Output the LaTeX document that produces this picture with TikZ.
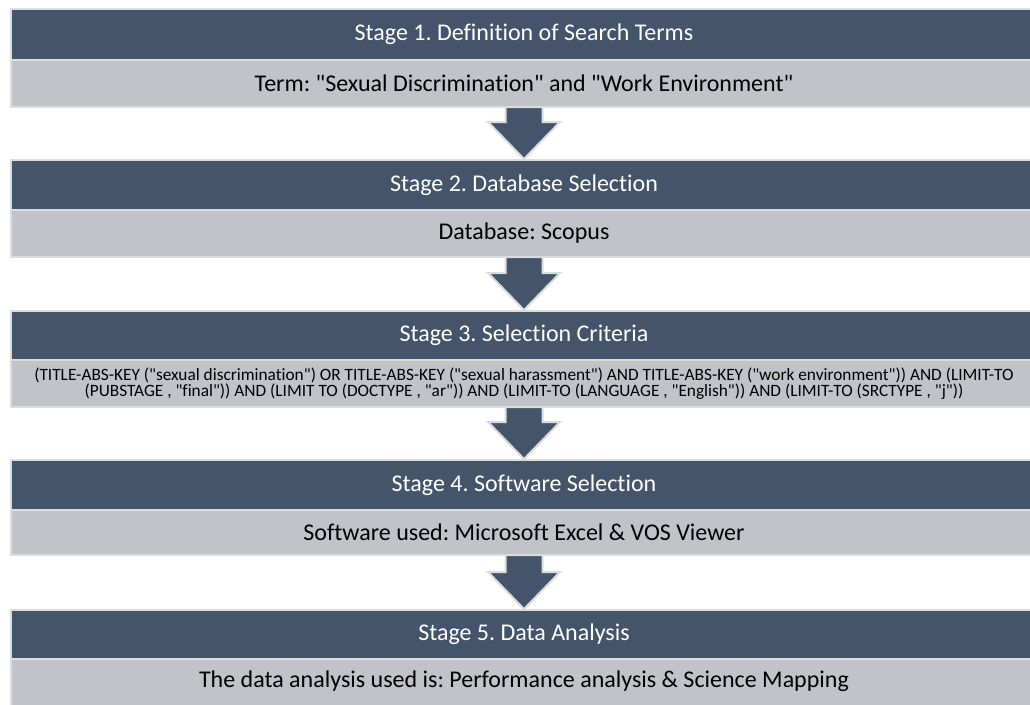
\documentclass[tikz,border=0pt]{standalone}
\usepackage{fontspec}
\setmainfont{Carlito}[Ligatures={TeXOff,CommonOff}]
\definecolor{darkbar}{HTML}{44546A}
\definecolor{lightbar}{HTML}{C0C4C8}
\definecolor{rim}{HTML}{DCDCDC}
\newcommand\blockarrow[2]{%
  \draw[blockshape] ([xshift=-18.5pt]#1.south) -- ([xshift=18.5pt]#1.south)
    -- ([xshift=18.5pt,yshift=38pt]#2.north) -- ([xshift=36pt,yshift=38pt]#2.north)
    -- ([yshift=1pt]#2.north) -- ([xshift=-36pt,yshift=38pt]#2.north)
    -- ([xshift=-18.5pt,yshift=38pt]#2.north) -- cycle;}
\begin{document}
\frenchspacing
\begin{tikzpicture}[x=1pt,y=-1pt,
  bar/.style={draw=rim,line width=2pt,inner sep=0pt,outer sep=0pt,
    minimum width=1026pt,anchor=north west},
  titlebar/.style={bar,fill=darkbar,minimum height=#1,text=white,
    font=\fontsize{24}{28}\selectfont},
  bodybar/.style={bar,fill=lightbar,minimum height=#1,text=black,
    font=\fontsize{24}{28}\selectfont},
  blockshape/.style={draw=rim,line width=2pt,fill=darkbar,line join=miter}]
\useasboundingbox (0,0) rectangle (1030,704);
% stage boxes
\node[titlebar=51pt] (d1) at (11,9) {Stage 1. Definition of Search Terms};
\node[bodybar=47pt] (l1) at (11,60) {Term: "Sexual Discrimination" and "Work Environment"};
\node[titlebar=50pt] (d2) at (11,160) {Stage 2. Database Selection};
\node[bodybar=47pt] (l2) at (11,210) {Database: Scopus};
\node[titlebar=49pt] (d3) at (11,311) {Stage 3. Selection Criteria};
\node[bodybar=47pt,align=center,font=\fontsize{17.3}{15}\selectfont] (l3) at (11,360)
  {(TITLE-ABS-KEY ("sexual discrimination") OR TITLE-ABS-KEY ("sexual harassment") AND TITLE-ABS-KEY ("work environment")) AND (LIMIT-TO\\
   (PUBSTAGE , "final")) AND (LIMIT TO (DOCTYPE , "ar")) AND (LIMIT-TO (LANGUAGE , "English")) AND (LIMIT-TO (SRCTYPE , "j"))};
\node[titlebar=50pt] (d4) at (11,460) {Stage 4. Software Selection};
\node[bodybar=45pt] (l4) at (11,510) {Software used: Microsoft Excel \& VOS Viewer};
\node[titlebar=49pt] (d5) at (11,610) {Stage 5. Data Analysis};
\node[bodybar=47pt,anchor=north west] (l5) at (11,659) {};
\node[font=\fontsize{24}{28}\selectfont,anchor=center] (t5) at ([yshift=1pt]l5.center |- 0,682)
  {The data analysis used is: Performance analysis \& Science Mapping};
% arrows
\blockarrow{l1}{d2}
\blockarrow{l2}{d3}
\blockarrow{l3}{d4}
\blockarrow{l4}{d5}
\end{tikzpicture}
\end{document}
